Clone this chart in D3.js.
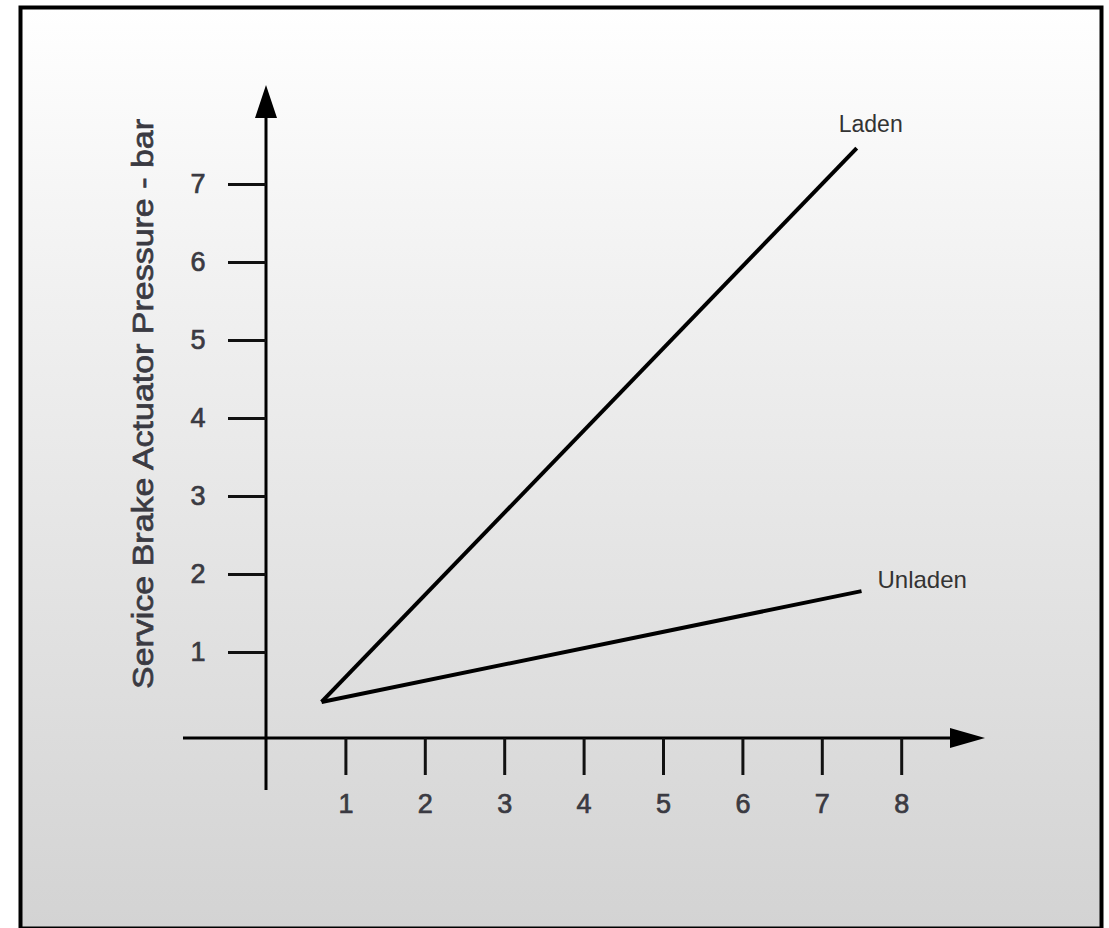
<!DOCTYPE html>
<html>
<head>
<meta charset="utf-8">
<script src="https://cdn.jsdelivr.net/npm/d3@7"></script>
<style>
  html, body { margin: 0; padding: 0; background: #fff; }
  svg { display: block; font-family: "Liberation Sans", Arial, sans-serif; }
  .thick { stroke-width: 0.7px; paint-order: stroke; }
</style>
</head>
<body>
<svg id="chart"></svg>
<script>
// values
const xTicks = [1, 2, 3, 4, 5, 6, 7, 8];
const yTicks = [1, 2, 3, 4, 5, 6, 7];
const seriesNames = ["Laden", "Unladen"];
const ladenX = [0.7, 7.44];
const ladenY = [0.36, 7.46];
const unladenX = [0.7, 7.5];
const unladenY = [0.36, 1.78];
const yTitle = "Service Brake Actuator Pressure - bar";

const width = 1109, height = 928;
const svg = d3.select("#chart").attr("width", width).attr("height", height);

// background panel with vertical grey fade
const defs = svg.append("defs");
const grad = defs.append("linearGradient")
    .attr("id", "bg").attr("x1", "0%").attr("y1", "0%").attr("x2", "0%").attr("y2", "100%");
grad.selectAll("stop")
    .data([
        { offset: "0%", color: "#ffffff" },
        { offset: "30%", color: "#f1f1f1" },
        { offset: "65%", color: "#e2e2e2" },
        { offset: "100%", color: "#d3d3d3" }
    ])
    .join("stop")
    .attr("offset", d => d.offset)
    .attr("stop-color", d => d.color);

svg.append("rect")
    .attr("x", 20.5).attr("y", 7.5)
    .attr("width", 1081).attr("height", 921)
    .attr("fill", "url(#bg)")
    .attr("stroke", "#000")
    .attr("stroke-width", 4);

const x = d3.scaleLinear().domain([0, 8]).range([266, 901.2]);
const y = d3.scaleLinear().domain([0, 7]).range([730, 184]);
const xAxisY = 738;
const labelColor = "#3a3a42";

// axis lines with arrow heads
svg.append("line")
    .attr("x1", x(0)).attr("x2", x(0))
    .attr("y1", 790).attr("y2", 112)
    .attr("stroke", "#000").attr("stroke-width", 3);
svg.append("path")
    .attr("d", `M${x(0)},85 L${x(0) - 11},118 L${x(0) + 11},118 Z`)
    .attr("fill", "#000");

svg.append("line")
    .attr("x1", 183).attr("x2", 955)
    .attr("y1", xAxisY).attr("y2", xAxisY)
    .attr("stroke", "#000").attr("stroke-width", 3);
svg.append("path")
    .attr("d", `M985,${xAxisY} L950,${xAxisY - 10} L950,${xAxisY + 10} Z`)
    .attr("fill", "#000");

// ticks
const xAxis = svg.append("g")
    .attr("transform", `translate(0, ${xAxisY})`)
    .call(d3.axisBottom(x).tickValues(xTicks).tickSize(37).tickPadding(19).tickFormat(d3.format("d")));
xAxis.select(".domain").remove();
xAxis.selectAll(".tick line").attr("stroke", "#111").attr("stroke-width", 3);
xAxis.selectAll(".tick text")
    .attr("class", "thick")
    .attr("fill", labelColor)
    .attr("stroke", labelColor)
    .style("font-size", "27px")
    .style("font-family", "'Liberation Sans', Arial, sans-serif");

const yAxis = svg.append("g")
    .attr("transform", `translate(${x(0)}, 0)`)
    .call(d3.axisLeft(y).tickValues(yTicks).tickSize(38).tickFormat(d3.format("d")));
yAxis.select(".domain").remove();
yAxis.selectAll(".tick line").attr("stroke", "#111").attr("stroke-width", 3);
yAxis.selectAll(".tick text")
    .attr("class", "thick")
    .attr("x", -68)
    .attr("text-anchor", "middle")
    .attr("fill", labelColor)
    .attr("stroke", labelColor)
    .style("font-size", "27px")
    .style("font-family", "'Liberation Sans', Arial, sans-serif");

// y title
svg.append("text")
    .attr("class", "thick")
    .attr("transform", `translate(153, 404) rotate(-90)`)
    .attr("text-anchor", "middle")
    .attr("fill", labelColor)
    .attr("stroke", labelColor)
    .attr("textLength", 570)
    .attr("lengthAdjust", "spacingAndGlyphs")
    .style("font-size", "30px")
    .text(yTitle);

// series lines
const line = d3.line().x(d => x(d[0])).y(d => y(d[1]));
const series = [
    { name: seriesNames[0], pts: d3.zip(ladenX, ladenY) },
    { name: seriesNames[1], pts: d3.zip(unladenX, unladenY) }
];
svg.selectAll(".series")
    .data(series)
    .join("path")
    .attr("class", "series")
    .attr("d", d => line(d.pts))
    .attr("fill", "none")
    .attr("stroke", "#000")
    .attr("stroke-width", 4)
    .attr("stroke-linejoin", "miter");

// series labels
svg.append("text")
    .attr("x", x(ladenX[1]) - 18).attr("y", y(ladenY[1]) - 16)
    .attr("fill", "#333")
    .style("font-size", "23px")
    .text(seriesNames[0]);
svg.append("text")
    .attr("x", x(unladenX[1]) + 16).attr("y", y(unladenY[1]) - 3)
    .attr("fill", "#333")
    .style("font-size", "24px")
    .text(seriesNames[1]);
</script>
</body>
</html>
